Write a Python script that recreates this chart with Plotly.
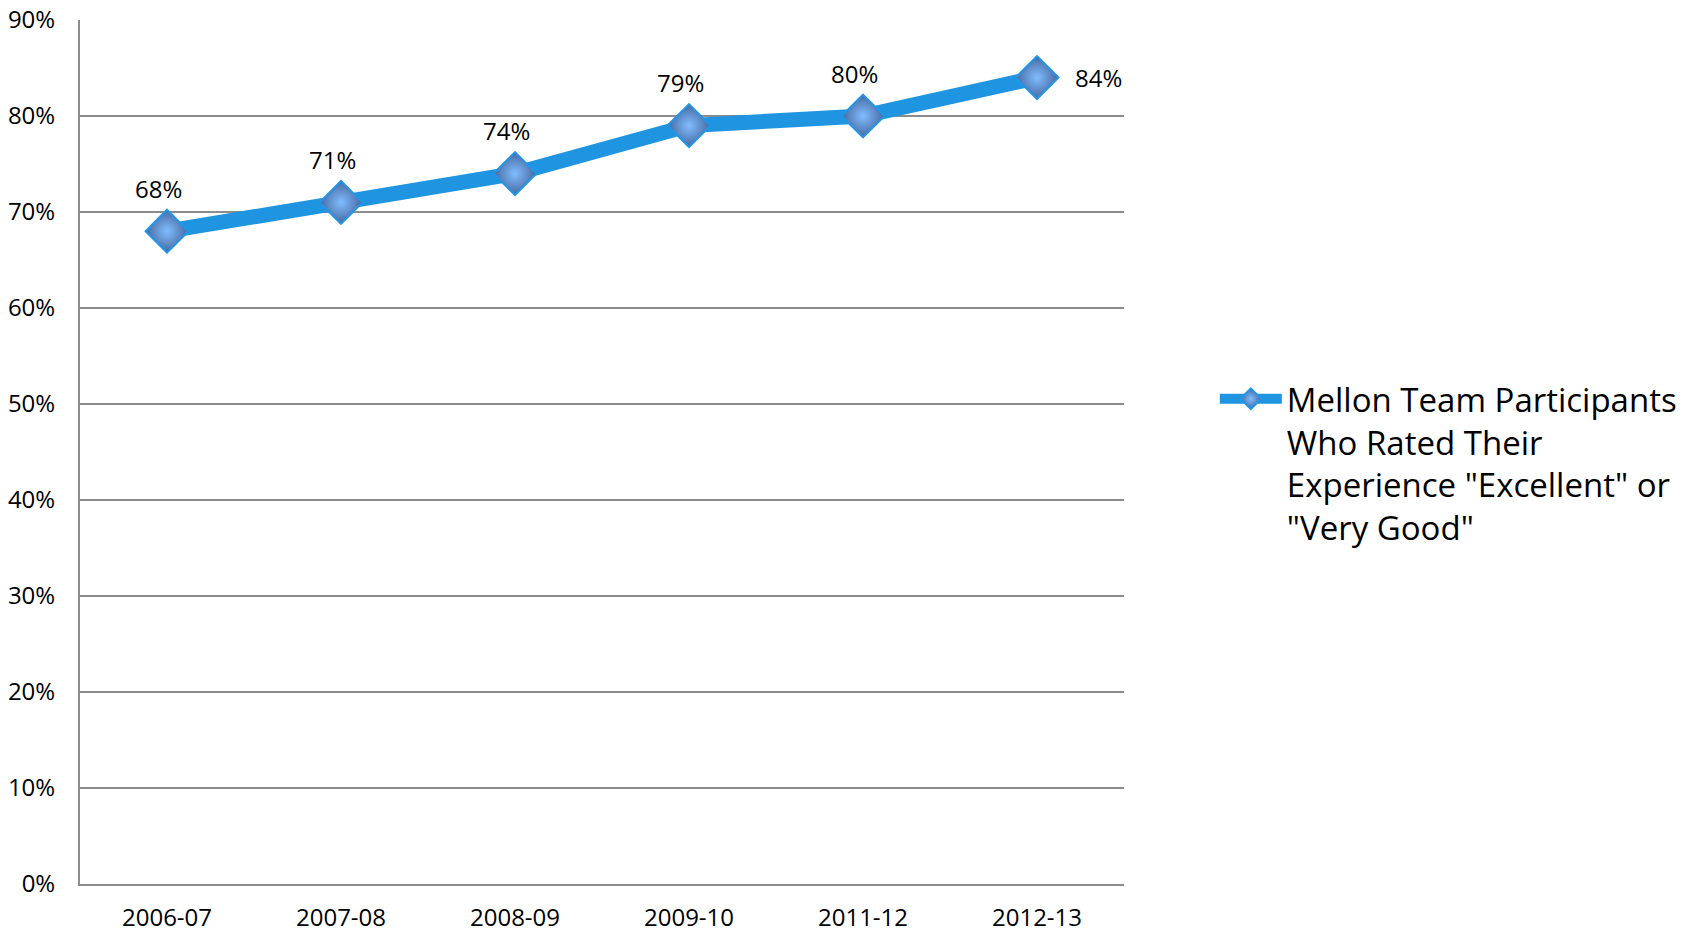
import plotly.graph_objects as go

# Survey seasons and share of participants rating their experience highly (%)
seasons = ["2006-07", "2007-08", "2008-09", "2009-10", "2011-12", "2012-13"]
rated_high = [68, 71, 74, 79, 80, 84]
series_name = 'Mellon Team Participants<br>Who Rated Their<br>Experience "Excellent" or<br>"Very Good"'
y_ticks = list(range(0, 100, 10))
y_tick_text = [f"{v}%" for v in y_ticks]

FONT = "Open Sans"
LINE_BLUE = "#1F94E0"
GRID = "#8C8C8C"

fig = go.Figure()
fig.add_trace(go.Scatter(
    x=seasons,
    y=rated_high,
    mode="lines+markers",
    name=series_name,
    line=dict(color=LINE_BLUE, width=15),
    marker=dict(
        symbol="diamond",
        size=33,
        color="#46689F",
        gradient=dict(type="radial", color="#80BDFF"),
        line=dict(color="#2196E8", width=2),
    ),
    cliponaxis=False,
))

# Value labels: above each point, the final one to its right
for i, (s, v) in enumerate(zip(seasons, rated_high)):
    last = i == len(seasons) - 1
    fig.add_annotation(
        x=s, y=v, text=f"{v}%", showarrow=False,
        xanchor="left" if last else "center",
        xshift=36 if last else -9,
        yshift=0 if last else 43,
        font=dict(family=FONT, size=24, color="#000000"),
    )

fig.update_layout(
    width=1694, height=932,
    margin=dict(l=80, r=570, t=20, b=48, autoexpand=False),
    paper_bgcolor="white", plot_bgcolor="white",
    font=dict(family=FONT, size=24, color="#000000"),
    showlegend=True,
    legend=dict(
        x=1.087, y=0.594, xanchor="left", yanchor="top",
        font=dict(family=FONT, size=33, color="#000000"),
        itemwidth=62, valign="top", bgcolor="rgba(0,0,0,0)",
    ),
    xaxis=dict(
        type="category", range=[-0.5, 5.5], automargin=False,
        showgrid=False, zeroline=False,
        showline=True, linecolor=GRID, linewidth=2,
        ticks="", ticklabelstandoff=11,
        tickfont=dict(family=FONT, size=24),
    ),
    yaxis=dict(
        range=[0, 90], tickvals=y_ticks, ticktext=y_tick_text, automargin=False,
        showgrid=True, gridcolor=GRID, gridwidth=2,
        zeroline=False, showline=True, linecolor=GRID, linewidth=2,
        ticks="", ticklabelstandoff=18,
        tickfont=dict(family=FONT, size=24),
    ),
)

fig.write_html("out.html")
